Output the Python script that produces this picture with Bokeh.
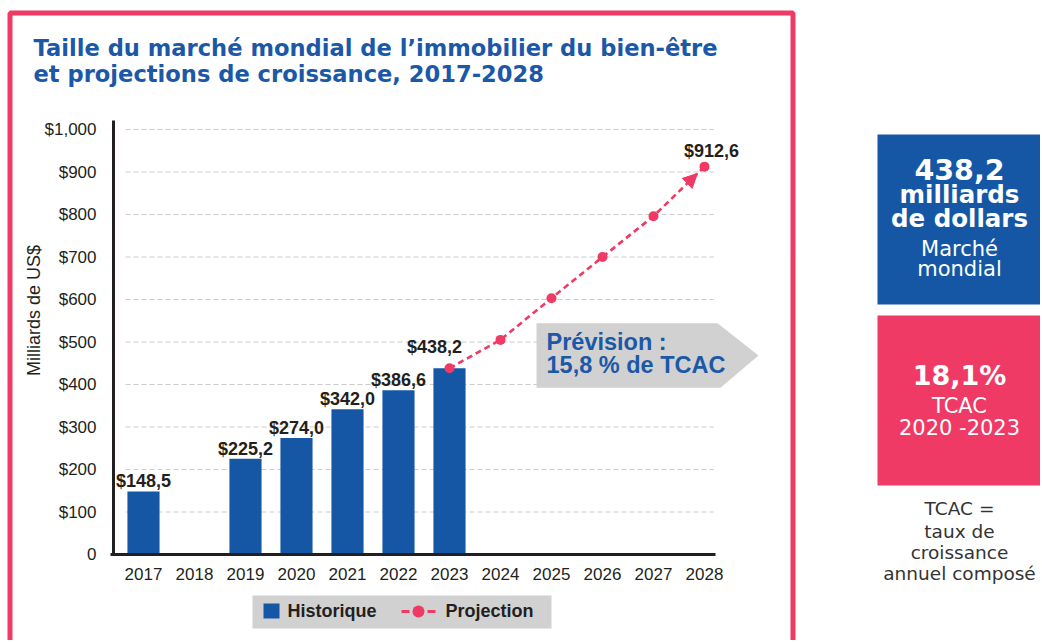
import math
from bokeh.plotting import figure
from bokeh.models import (Range1d, FixedTicker, Label, LabelSet, ColumnDataSource,
                          BoxAnnotation, PolyAnnotation, Arrow, NormalHead, LinearAxis)
from bokeh.core.properties import value
from bokeh.embed import file_html
from bokeh.resources import INLINE

# ---------------- data ----------------
years_all = [2017, 2018, 2019, 2020, 2021, 2022, 2023, 2024, 2025, 2026, 2027, 2028]
hist_years = [2017, 2019, 2020, 2021, 2022, 2023]
hist_values = [148.5, 225.2, 274.0, 342.0, 386.6, 438.2]
hist_labels = ["$148,5", "$225,2", "$274,0", "$342,0", "$386,6", "$438,2"]
proj_years = [2023, 2024, 2025, 2026, 2027, 2028]
proj_values = [438.2, 505.0, 603.0, 700.0, 796.0, 912.6]
proj_end_label = "$912,6"
y_ticks = [0, 100, 200, 300, 400, 500, 600, 700, 800, 900, 1000]
y_tick_labels = ["0", "$100", "$200", "$300", "$400", "$500", "$600", "$700", "$800", "$900", "$1,000"]

BLUE = "#1557a5"
TITLE_BLUE = "#1b58a7"
PINK = "#ee3a64"
GRAY = "#d1d1d1"
DARK = "#231f20"

W, H = 1040, 640
UNITS = "canvas"
K_BASE = 0.38   # empirical baseline correction for Label (fraction of font size)

# chart geometry (pixel placement of the data area)
AXIS_X_PX, AXIS_Y_PX = 113, 554
X_AXIS_START, X_AXIS_END = 2016.412, 2028.216
PX_PER_YEAR = 51.0
Y_TOP = 1021
PX_PER_UNIT = 0.425

x_range = Range1d(X_AXIS_START - AXIS_X_PX / PX_PER_YEAR, X_AXIS_START + (W - AXIS_X_PX) / PX_PER_YEAR)
y_range = Range1d(-(H - AXIS_Y_PX) / PX_PER_UNIT, AXIS_Y_PX / PX_PER_UNIT)

p = figure(width=W, height=H, output_backend="svg", toolbar_location=None,
           x_range=x_range, y_range=y_range,
           x_axis_location=None, y_axis_location=None,
           min_border_left=0, min_border_right=0, min_border_top=0, min_border_bottom=0)
p.min_border = 0
p.outline_line_color = None
p.background_fill_color = "white"
p.border_fill_color = "white"
p.grid.visible = False

# axes placed at fixed data locations
yax = LinearAxis(fixed_location=X_AXIS_START, bounds=(0, Y_TOP),
                 ticker=FixedTicker(ticks=y_ticks))
yax.major_label_overrides = {t: l for t, l in zip(y_ticks, y_tick_labels)}
yax.major_label_standoff = 11
xax = LinearAxis(fixed_location=0, bounds=(X_AXIS_START - 0.06, X_AXIS_END),
                 ticker=FixedTicker(ticks=years_all))
xax.major_label_overrides = {y: str(y) for y in years_all}
xax.major_label_standoff = 7
for ax in (xax, yax):
    ax.axis_line_color = DARK
    ax.axis_line_width = 3
    ax.major_tick_line_color = None
    ax.minor_tick_line_color = None
    ax.major_label_text_font = "Liberation Sans"
    ax.major_label_text_font_size = "17px"
    ax.major_label_text_color = DARK
p.add_layout(yax, "left")
p.add_layout(xax, "below")

# dashed horizontal gridlines
grid_vals = y_ticks[1:]
p.segment(x0=[2016.65] * len(grid_vals), x1=[2028.18] * len(grid_vals),
          y0=grid_vals, y1=grid_vals, line_color="#cccccc", line_width=1.2, line_dash="5 3")

# bars
hsrc = ColumnDataSource(dict(x=hist_years, top=hist_values, label=hist_labels))
p.vbar(x="x", top="top", bottom=0, width=0.63, source=hsrc, fill_color=BLUE, line_color=None)
lsrc = ColumnDataSource(dict(x=hist_years[:-1], y=hist_values[:-1], label=hist_labels[:-1]))
p.add_layout(LabelSet(x="x", y="y", text="label", source=lsrc, y_offset=4,
                      text_align="center", text_baseline="alphabetic",
                      text_font=value("Liberation Sans"), text_font_style="bold",
                      text_font_size="18px", text_color=DARK))
p.add_layout(Label(x=hist_years[-1], y=hist_values[-1], text=hist_labels[-1],
                   x_offset=-15, y_offset=14 + K_BASE * 18, text_align="center",
                   text_baseline="alphabetic",
                   text_font="Liberation Sans", text_font_style="bold",
                   text_font_size="18px", text_color=DARK))

# projection
p.line(proj_years, proj_values, line_color=PINK, line_width=2.6, line_dash="6 4")
p.scatter(proj_years, proj_values, size=10, fill_color=PINK, line_color=None)
frac = 0.86
xe = proj_years[-2] + frac * (proj_years[-1] - proj_years[-2])
ye = proj_values[-2] + frac * (proj_values[-1] - proj_values[-2])
p.add_layout(Arrow(end=NormalHead(size=14, fill_color=PINK, line_color=PINK),
                   x_start=proj_years[-2], y_start=proj_values[-2], x_end=xe, y_end=ye,
                   line_alpha=0))
p.add_layout(Label(x=proj_years[-1], y=proj_values[-1], text=proj_end_label,
                   x_offset=7, y_offset=9 + K_BASE * 18, text_align="center",
                   text_baseline="alphabetic",
                   text_font="Liberation Sans", text_font_style="bold",
                   text_font_size="18px", text_color=DARK))


def label(px, py, text, size, color=DARK, font="Liberation Sans", bold=False,
          align="left", baseline="alphabetic", angle=0.0):
    y = py - K_BASE * size if baseline == "alphabetic" else py
    p.add_layout(Label(x=px, y=y, x_units=UNITS, y_units=UNITS, text=text,
                       text_font=font, text_font_size=f"{size}px",
                       text_font_style="bold" if bold else "normal",
                       text_color=color, text_align=align, text_baseline=baseline,
                       angle=angle))


def box(l, r, t, b, fill=None, line=None, lw=0, radius=0):
    kw = dict(left=l, right=r, top=t, bottom=b,
              left_units=UNITS, right_units=UNITS, top_units=UNITS, bottom_units=UNITS,
              fill_color=fill if fill else None, fill_alpha=1.0 if fill else 0.0,
              line_color=line, line_alpha=1.0 if line else 0.0, line_width=lw,
              level="annotation")
    if radius:
        kw["border_radius"] = radius
    p.add_layout(BoxAnnotation(**kw))


# pink frame
box(9.5, 792.5, 12.5, 700, fill=None, line=PINK, lw=5)

# title
label(33, 56.5, "Taille du marché mondial de l’immobilier du bien-être", 22.6,
      color=TITLE_BLUE, font="DejaVu Sans", bold=True)
label(33, 82, "et projections de croissance, 2017-2028", 22.6,
      color=TITLE_BLUE, font="DejaVu Sans", bold=True)

# y axis title
label(33.5, 310, "Milliards de US$", 18, align="center", baseline="middle", angle=math.pi / 2)

# forecast arrow box
p.add_layout(PolyAnnotation(xs=[536, 717, 758, 720, 536],
                            ys=[322.7, 322.7, 355, 387.3, 387.3],
                            xs_units=UNITS, ys_units=UNITS,
                            fill_color=GRAY, fill_alpha=1.0, line_color=None))
label(546, 350, "Prévision :", 23.5, color=TITLE_BLUE, bold=True)
label(546, 373.3, "15,8 % de TCAC", 23.5, color=TITLE_BLUE, bold=True)

# legend
box(252, 551, 595, 628, fill=GRAY)
box(263, 279, 603, 618, fill=BLUE)
label(287, 617.7, "Historique", 18, bold=True)
box(401, 409, 609.5, 612.5, fill=PINK)
box(427, 435, 609.5, 612.5, fill=PINK)
box(412, 424, 605, 617, fill=PINK, radius=6)
label(445, 617.7, "Projection", 18, bold=True)

# right panel
CX = 959
box(877, 1045, 134, 304, fill=BLUE)
label(CX, 180, "438,2", 28.5, color="white", font="DejaVu Sans", bold=True, align="center")
label(CX, 203.3, "milliards", 24.5, color="white", font="DejaVu Sans", bold=True, align="center")
label(CX, 227.3, "de dollars", 24.5, color="white", font="DejaVu Sans", bold=True, align="center")
label(CX, 256.7, "Marché", 21, color="white", font="DejaVu Sans", align="center")
label(CX, 276.7, "mondial", 21, color="white", font="DejaVu Sans", align="center")

box(877, 1045, 315, 485, fill=PINK)
label(CX, 385, "18,1%", 27, color="white", font="DejaVu Sans", bold=True, align="center")
label(CX, 413.3, "TCAC", 21, color="white", font="DejaVu Sans", align="center")
label(CX, 435, "2020 -2023", 21, color="white", font="DejaVu Sans", align="center")

label(CX, 515, "TCAC =", 18.5, color="#333333", font="DejaVu Sans", align="center")
label(CX, 537.7, "taux de", 18.5, color="#333333", font="DejaVu Sans", align="center")
label(CX, 559.3, "croissance", 18.5, color="#333333", font="DejaVu Sans", align="center")
label(CX, 580, "annuel composé", 18.5, color="#333333", font="DejaVu Sans", align="center")

open("out.html", "w").write(file_html(p, INLINE))
